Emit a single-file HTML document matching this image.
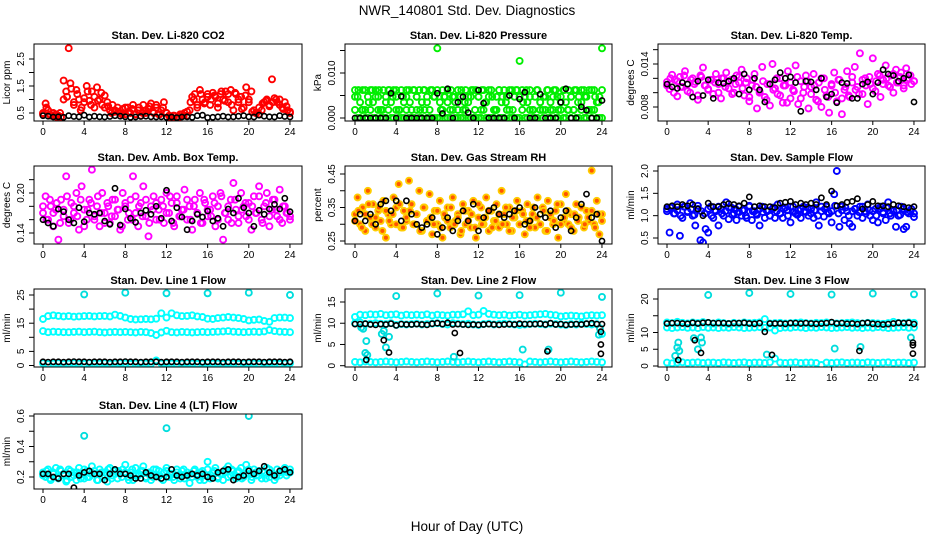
<!DOCTYPE html>
<html><head><meta charset="utf-8">
<style>
html,body{margin:0;padding:0;background:#fff;}
svg{display:block;font-family:"Liberation Sans",Arial,sans-serif;}
</style></head>
<body>
<svg id="chart" width="936" height="540" viewBox="0 0 936 540" xmlns="http://www.w3.org/2000/svg">
<rect width="936" height="540" fill="#fff"/>
<text x="467" y="15" text-anchor="middle" font-size="13.5">NWR_140801  Std. Dev. Diagnostics</text>
<text x="467" y="531" text-anchor="middle" font-size="13.5">Hour of Day (UTC)</text>
</svg>
<script>
// ---------- data ----------
const xTicks = [0,4,8,12,16,20,24];
const titles = ["Stan. Dev. Li-820 CO2","Stan. Dev. Li-820 Pressure","Stan. Dev. Li-820 Temp.","Stan. Dev. Amb. Box Temp.","Stan. Dev. Gas Stream RH","Stan. Dev. Sample Flow","Stan. Dev. Line 1 Flow","Stan. Dev. Line 2 Flow","Stan. Dev. Line 3 Flow","Stan. Dev. Line 4 (LT) Flow"];
const yTitles = ["Licor ppm","kPa","degrees C","degrees C","percent","ml/min","ml/min","ml/min","ml/min","ml/min"];

const co2Color = [0.45,0.85,0.6,0.4,0.5,0.45,0.4,0.35,1.7,1.3,2.9,1.4,0.9,1.35,1.0,0.7,0.9,1.5,0.95,1.3,0.7,1.45,1.0,0.8,1.15,0.9,0.6,0.8,0.55,0.7,0.5,0.65,0.45,0.7,0.5,0.8,0.45,0.6,0.4,0.8,0.5,0.65,0.85,0.5,0.7,0.45,0.6,0.9,0.5,0.4,0.35,0.4,0.3,0.35,0.45,0.5,0.4,0.6,1.1,1.2,0.8,1.35,1.0,0.9,1.2,0.8,1.25,1.1,0.7,1.2,1.0,1.3,0.9,1.35,0.6,1.2,0.9,1.1,0.7,1.45,1.0,1.3,0.6,0.5,0.45,0.6,0.9,1.0,0.8,1.75,1.05,0.9,1.0,0.7,0.9,0.6,0.5];
const co2Color2 = [0.5,0.7,0.45,0.4,0.35,0.5,1.0,1.1,1.6,0.8,1.2,0.6,1.05,1.3,0.8,1.1,0.95,1.25,0.7,0.75,0.5,0.6,0.55,0.45,0.7,0.55,0.65,0.45,0.7,0.5,0.6,0.75,0.55,0.8,0.45,0.7,0.5,0.35,0.4,0.3,0.45,0.4,0.55,0.9,1.0,0.7,1.2,0.85,1.1,1.0,1.15,0.85,1.3,0.95,1.2,0.8,1.25,1.0,0.65,1.15,0.9,0.55,0.5,0.7,0.85,0.95,0.75,0.9,1.0,0.8,0.65,0.75,0.55];
const co2Black = [0.4,0.38,0.35,0.36,0.34,0.4,0.37,0.36,0.42,0.35,0.38,0.36,0.35,0.37,0.4,0.38,0.36,0.34,0.35,0.37,0.38,0.36,0.35,0.36,0.34,0.35,0.33,0.35,0.36,0.34,0.4,0.42,0.33,0.34,0.36,0.38,0.35,0.36,0.38,0.4,0.36,0.35,0.42,0.38,0.36,0.35,0.4,0.37,0.35];

const pressA = [0.0062,0.0047,0.0035,0.0062,0.0018,0.0047,0.0062,0.0035,0.0062,0.0047,0.0018,0.0062,0.0047,0.0062,0.0035,0.0062,0.0047,0.0018,0.0062,0.0035,0.0047,0.0062,0.0018,0.0062,0.0047,0.0062,0.0035,0.0062,0.0047,0.0018,0.0062,0.0047,0.0155,0.0035,0.0062,0.0047,0.0062,0.0018,0.0047,0.0035,0.0062,0.0047,0.0018,0.0062,0.0035,0.0047,0.0062,0.0062,0.0047,0.0018,0.0062,0.0035,0.0047,0.0062,0.0018,0.0047,0.0062,0.0035,0.0062,0.0047,0.0018,0.0062,0.0047,0.0062,0.0127,0.0062,0.0047,0.0035,0.0062,0.0018,0.0047,0.0062,0.0035,0.0018,0.0047,0.0062,0.0035,0.0047,0.0062,0.0018,0.0047,0.0062,0.0035,0.0062,0.0047,0.0018,0.0062,0.0047,0.0035,0.0062,0.0047,0.0062,0.0018,0.0062,0.0035,0.0047,0.0155];
const pressB = [0.0018,0,0,0.0018,0,0,0.0018,0,0,0.0018,0,0,0,0.0018,0,0,0.0018,0,0,0,0.0018,0,0,0,0.0018,0,0,0.0018,0,0,0,0,0,0,0.0018,0,0,0,0.0018,0,0,0,0,0.0018,0,0,0,0,0,0,0.0018,0,0,0,0,0.0018,0,0,0,0.0018,0,0,0,0,0,0.0018,0,0,0.0018,0,0,0,0.0018,0,0.0018,0,0,0.0018,0,0,0.0018,0,0,0.0018,0,0.0018,0,0,0.0018,0,0,0.0018,0,0.0018,0,0,0];
const pressC = [0.0047,0.0062,0.0018,0.0062,0.0035,0.0062,0.0047,0.0062,0.0018,0.0035,0.0062,0.0047,0.0062,0.0018,0.0047,0.0062,0.0035,0.0062,0.0047,0.0018,0.0062,0.0035,0.0062,0.0047,0.0062,0.0018,0.0047,0.0035,0.0062,0.0047,0.0018,0.0062,0.0035,0.0047,0.0062,0.0018,0.0047,0.0062,0.0035,0.0062,0.0047,0.0018,0.0062,0.0047,0.0035,0.0062,0.0018,0.0062,0.0047,0.0035,0.0062,0.0047,0.0018,0.0062,0.0035,0.0047,0.0062,0.0018,0.0062,0.0047,0.0035,0.0062,0.0018,0.0047,0.0062,0.0035,0.0062,0.0047,0.0018,0.0062,0.0047,0.0035,0.0062];
const pressBlack = [0,0,0,0,0,0,0,0.0055,0,0.0048,0,0,0,0,0,0,0.0055,0.001,0.0065,0,0.0035,0.0047,0.0012,0,0.0062,0.0033,0,0,0,0,0.005,0,0.0042,0.0057,0,0,0.0053,0,0,0,0.0035,0.0065,0,0,0.0025,0.0017,0,0,0.0039];

const tempColor = [0.0115,0.0105,0.0125,0.0118,0.0095,0.0122,0.0108,0.0130,0.0112,0.0100,0.0120,0.0115,0.0090,0.0124,0.0135,0.0110,0.0105,0.0118,0.0098,0.0126,0.0112,0.0092,0.0120,0.0128,0.0106,0.0118,0.0100,0.0124,0.0114,0.0132,0.0096,0.0120,0.0088,0.0110,0.0126,0.0078,0.0102,0.0136,0.0094,0.0112,0.0082,0.0140,0.0106,0.0098,0.0120,0.0086,0.0110,0.0130,0.0092,0.0104,0.0138,0.0084,0.0116,0.0100,0.0124,0.0078,0.0108,0.0126,0.0090,0.0114,0.0080,0.0120,0.0096,0.0072,0.0110,0.0128,0.0088,0.0118,0.0070,0.0104,0.0130,0.0094,0.0122,0.0136,0.0108,0.0155,0.0098,0.0120,0.0084,0.0112,0.0148,0.0102,0.0126,0.0094,0.0118,0.0138,0.0110,0.0124,0.0100,0.0132,0.0114,0.0128,0.0106,0.0134,0.0120,0.0112,0.0116];
const tempColor2 = [0.0110,0.0120,0.0100,0.0116,0.0108,0.0124,0.0102,0.0118,0.0112,0.0096,0.0122,0.0110,0.0104,0.0118,0.0114,0.0100,0.0120,0.0108,0.0116,0.0098,0.0112,0.0122,0.0106,0.0114,0.0094,0.0118,0.0108,0.0100,0.0116,0.0090,0.0112,0.0104,0.0120,0.0096,0.0110,0.0086,0.0114,0.0102,0.0122,0.0092,0.0108,0.0116,0.0098,0.0110,0.0088,0.0120,0.0104,0.0094,0.0112,0.0100,0.0118,0.0092,0.0108,0.0096,0.0114,0.0104,0.0098,0.0118,0.0110,0.0122,0.0106,0.0116,0.0124,0.0112,0.0120,0.0108,0.0126,0.0114,0.0122,0.0110,0.0118,0.0124,0.0116];
const tempBlack = [0.0112,0.0108,0.0106,0.0114,0.0112,0.0094,0.0116,0.0096,0.0118,0.0092,0.0114,0.0113,0.0116,0.0120,0.0098,0.0126,0.0104,0.0120,0.0104,0.0087,0.0112,0.0118,0.0128,0.0120,0.0122,0.0114,0.0074,0.0116,0.0115,0.0104,0.0120,0.0094,0.0098,0.0086,0.0114,0.0113,0.0092,0.0092,0.0112,0.0115,0.0098,0.0114,0.0132,0.0126,0.0124,0.0116,0.0120,0.0125,0.0087];

const boxColor = [0.17,0.195,0.16,0.18,0.15,0.175,0.13,0.19,0.165,0.225,0.155,0.185,0.17,0.2,0.145,0.21,0.175,0.16,0.19,0.235,0.165,0.18,0.15,0.2,0.17,0.185,0.155,0.19,0.165,0.175,0.145,0.2,0.18,0.16,0.19,0.225,0.17,0.15,0.185,0.21,0.165,0.135,0.18,0.195,0.16,0.175,0.19,0.155,0.2,0.17,0.185,0.15,0.195,0.165,0.175,0.205,0.16,0.18,0.145,0.19,0.17,0.2,0.155,0.185,0.165,0.175,0.195,0.15,0.18,0.2,0.13,0.17,0.16,0.19,0.215,0.175,0.155,0.2,0.18,0.165,0.185,0.145,0.195,0.17,0.21,0.16,0.18,0.2,0.15,0.175,0.19,0.165,0.205,0.155,0.18,0.17,0.16];
const boxColor2 = [0.18,0.16,0.19,0.17,0.185,0.155,0.175,0.195,0.16,0.18,0.165,0.19,0.15,0.175,0.185,0.16,0.195,0.17,0.155,0.18,0.165,0.19,0.175,0.15,0.185,0.17,0.16,0.195,0.18,0.165,0.19,0.155,0.175,0.185,0.16,0.18,0.17,0.195,0.155,0.185,0.165,0.175,0.19,0.16,0.18,0.17,0.155,0.19,0.175,0.165,0.185,0.16,0.195,0.17,0.18,0.155,0.19,0.165,0.175,0.185,0.16,0.18,0.17,0.195,0.155,0.185,0.165,0.19,0.175,0.16,0.18,0.17,0.165];
const boxBlack = [0.16,0.155,0.15,0.176,0.172,0.16,0.155,0.178,0.157,0.17,0.168,0.17,0.158,0.153,0.207,0.152,0.176,0.162,0.156,0.17,0.174,0.168,0.18,0.162,0.204,0.158,0.178,0.164,0.145,0.158,0.168,0.164,0.173,0.158,0.162,0.15,0.176,0.17,0.192,0.178,0.17,0.15,0.174,0.168,0.176,0.183,0.176,0.192,0.172];

const rhColor = [0.33,0.38,0.3,0.35,0.28,0.4,0.32,0.36,0.29,0.34,0.31,0.37,0.26,0.33,0.3,0.38,0.35,0.42,0.29,0.34,0.31,0.43,0.36,0.3,0.33,0.4,0.28,0.35,0.31,0.39,0.27,0.34,0.3,0.37,0.26,0.32,0.35,0.29,0.38,0.31,0.33,0.27,0.36,0.3,0.34,0.29,0.37,0.26,0.32,0.35,0.3,0.38,0.28,0.34,0.31,0.36,0.29,0.4,0.33,0.3,0.35,0.28,0.32,0.37,0.3,0.34,0.27,0.36,0.31,0.33,0.29,0.38,0.3,0.35,0.28,0.37,0.32,0.3,0.34,0.26,0.36,0.31,0.39,0.3,0.33,0.28,0.36,0.32,0.35,0.29,0.34,0.31,0.46,0.3,0.37,0.27,0.33];
const rhColor2 = [0.31,0.34,0.29,0.33,0.36,0.3,0.32,0.35,0.28,0.34,0.31,0.33,0.3,0.36,0.29,0.32,0.34,0.3,0.33,0.28,0.35,0.31,0.32,0.3,0.34,0.29,0.33,0.31,0.35,0.3,0.32,0.28,0.34,0.31,0.33,0.29,0.36,0.3,0.32,0.34,0.29,0.31,0.33,0.3,0.35,0.28,0.32,0.34,0.3,0.33,0.31,0.29,0.35,0.32,0.3,0.34,0.28,0.33,0.31,0.36,0.3,0.32,0.34,0.29,0.33,0.31,0.35,0.3,0.32,0.34,0.29,0.33,0.31];
const rhBlack = [0.31,0.33,0.31,0.33,0.3,0.36,0.37,0.34,0.37,0.31,0.37,0.33,0.3,0.29,0.3,0.32,0.27,0.29,0.32,0.28,0.31,0.34,0.31,0.36,0.28,0.32,0.34,0.35,0.33,0.32,0.33,0.34,0.35,0.3,0.31,0.35,0.33,0.32,0.34,0.29,0.32,0.34,0.28,0.32,0.36,0.39,0.32,0.33,0.25];

const flowColor = [1.15,0.62,1.2,1.05,1.25,0.55,0.95,1.2,1.1,1.28,1.0,0.78,1.15,0.45,0.4,0.7,0.62,1.2,0.95,1.1,0.78,1.15,1.0,1.3,0.92,1.18,1.05,0.9,1.2,1.0,1.12,0.95,1.22,0.9,1.1,1.02,0.78,1.2,0.95,1.1,1.0,1.15,0.95,1.25,1.05,0.95,1.18,1.0,0.85,1.2,1.05,1.12,0.95,1.2,1.08,1.0,1.15,0.95,1.3,0.78,1.1,0.98,1.2,1.05,0.85,1.48,2.0,0.75,1.2,0.9,1.1,0.82,0.75,1.15,1.0,1.2,0.95,1.1,1.25,1.0,0.9,1.15,0.85,1.2,1.05,0.9,1.3,1.0,1.1,0.75,1.0,1.2,0.7,0.75,1.05,1.15,0.97];
const flowColor2 = [1.1,1.18,1.05,1.12,1.0,1.2,1.08,1.15,1.02,1.22,1.1,1.05,1.15,1.0,1.12,1.2,1.05,1.1,1.18,1.02,1.15,1.08,1.12,1.0,1.2,1.1,1.05,1.15,1.08,1.12,1.0,1.18,1.1,1.05,1.15,1.12,1.2,1.08,1.02,1.15,1.1,1.18,1.05,1.12,1.0,1.2,1.15,1.08,1.1,1.22,1.05,1.12,1.18,1.0,1.1,1.15,1.08,1.2,1.05,1.12,1.1,1.0,1.15,1.08,1.18,1.05,1.1,1.12,1.02,1.15,1.08,1.1,1.05];
const flowBlack = [1.2,1.22,1.2,1.25,1.22,1.25,1.15,1.0,1.28,1.2,1.2,1.25,1.27,1.25,1.22,1.28,1.42,1.2,1.22,1.2,1.2,1.18,1.28,1.3,1.32,1.25,1.28,1.25,1.28,1.25,1.4,1.25,1.55,1.22,1.25,1.3,1.32,1.38,1.15,1.25,1.32,1.22,1.22,1.2,1.25,1.22,1.2,1.18,1.2];

const l1High = [16.5,17.5,17.8,17.6,17.4,17.5,17.3,17.4,17.5,17.6,17.4,17.5,17.6,17.4,18.0,17.6,17.0,16.5,16.3,16.4,16.5,16.4,16.6,18.5,17.0,18.5,17.8,17.5,17.6,17.8,17.4,17.2,16.6,16.5,16.8,17.0,17.2,17.0,16.8,16.5,16.0,16.2,16.3,15.8,15.5,16.8,17.0,17.0,16.8];
const l1Mid = [12.2,11.8,12.0,11.9,11.8,11.8,11.9,12.0,11.8,11.9,12.0,11.8,11.7,11.8,11.9,11.8,11.9,11.8,11.7,11.9,11.8,11.5,10.8,11.7,12.3,11.8,11.7,11.9,11.8,11.7,11.8,11.9,11.8,11.9,12.0,12.1,12.2,12.0,11.9,11.8,11.9,12.0,11.9,12.1,12.6,12.2,12.0,11.9,11.8];
const l1Low = [0.8,0.5,0.7,0.8,0.6,0.7,0.8,0.7,0.6,0.8,0.7,0.7,0.8,0.6,0.7,0.8,0.7,0.6,0.7,0.8,0.7,0.6,1.8,0.7,0.8,0.7,0.6,0.7,0.8,0.7,0.6,0.7,0.8,0.7,0.7,0.6,0.8,0.7,0.6,0.7,0.8,0.7,0.6,0.7,0.8,0.7,0.6,0.7,0.8];
const l1OutHours = [4,8,12,16,20,24];
const l1OutValues = [25.2,25.8,25.6,25.6,25.8,25.0];
const l1Black = [1.3,1.2,1.3,1.3,1.2,1.3,1.4,1.3,1.3,1.2,1.3,1.3,1.3,1.2,1.3,1.3,1.4,1.3,1.3,1.2,1.3,1.3,1.3,1.2,1.3,1.3,1.3,1.2,1.3,1.3,1.3,1.2,1.3,1.3,1.3,1.2,1.3,1.3,1.3,1.2,1.3,1.3,1.3,1.2,1.3,1.3,1.3,1.2,1.3];

const l2High = [11.5,12.0,11.9,12.1,12.0,12.2,11.9,12.0,12.1,11.8,12.0,11.9,12.0,11.9,12.1,11.8,12.0,11.9,11.8,12.0,12.0,12.1,12.8,11.9,12.0,12.9,12.2,12.0,11.9,12.0,11.8,11.9,12.0,11.8,11.9,12.0,12.1,12.2,12.0,11.9,11.6,11.7,11.8,11.7,11.6,11.8,11.9,11.8,11.9];
const l2Mid = [10.0,10.2,9.8,9.9,10.0,9.9,9.8,10.0,9.6,9.8,9.7,9.8,9.9,9.7,9.8,9.9,10.0,9.8,9.7,10.0,9.9,9.8,9.9,9.7,9.6,9.8,9.9,9.7,9.8,9.9,9.8,9.7,9.6,9.7,9.8,9.9,9.8,9.7,9.9,9.8,9.7,9.6,9.8,9.7,9.9,9.8,9.7,9.8,7.5];
const l2Low = [0.9,0.8,1.0,0.9,0.8,0.9,1.0,0.9,0.8,0.9,1.0,0.9,0.8,0.9,1.0,0.9,0.8,0.9,1.0,0.9,0.8,0.9,1.0,0.9,0.8,0.9,1.0,0.9,0.8,0.9,1.0,0.9,0.8,0.3,1.0,0.9,0.8,0.9,1.0,0.9,0.8,0.9,1.0,0.9,0.8,0.9,1.0,0.9,0.8];
const l2OutHours = [0.6,0.8,1.0,1.1,1.2,2.6,2.8,3.0,3.3,4,8,12,16,16.3,18.8,20,9.6,23.7,23.8,24];
const l2OutValues = [9.0,8.7,3.0,5.8,2.5,7.5,8.2,4.3,6.8,16.4,17.0,16.5,16.6,3.8,3.8,17.2,2.1,7.3,8.8,16.2];
const l2Black = [9.8,9.8,9.9,9.7,9.6,9.8,9.7,9.9,9.5,9.8,9.7,9.7,9.8,9.7,9.6,9.9,10.0,9.8,10.1,9.7,9.8,9.7,9.6,9.7,9.6,9.7,9.8,9.7,9.6,9.7,9.8,9.7,9.9,9.8,9.8,9.8,9.9,9.7,10.0,9.7,9.8,9.6,9.7,9.8,9.7,9.9,10.0,9.8,9.8];
const l2BlackOutHours = [1.1,2.8,3.3,9.7,10.2,18.7,23.9,23.9,23.9];
const l2BlackOutValues = [1.4,6.0,3.1,7.7,3.0,3.4,8.0,5.0,2.8];

const l3High = [13.0,12.8,13.2,12.9,12.7,13.0,12.8,13.1,12.9,12.7,13.0,12.8,12.6,12.9,12.7,13.0,12.8,12.9,13.0,14.0,12.7,12.8,12.9,12.7,12.8,12.9,13.0,12.8,12.7,12.9,12.8,13.0,12.9,12.7,12.8,12.9,13.0,12.8,12.7,12.9,12.8,12.7,12.6,12.8,13.2,12.9,12.8,13.0,12.9];
const l3Band = [11.5,11.3,11.5,11.6,11.4,11.5,11.3,11.6,11.4,11.5,11.3,11.5,11.4,11.6,11.5,11.3,11.4,11.5,11.6,11.4,11.5,10.6,11.3,11.5,11.4,11.6,11.5,11.3,11.5,11.4,11.6,11.5,11.3,11.4,11.5,11.6,11.4,11.5,11.3,11.5,11.4,11.6,11.5,11.3,11.4,11.5,11.6,11.4,11.5];
const l3Low = [1.0,0.8,1.0,1.1,0.9,1.0,1.1,0.9,1.0,1.0,0.9,1.1,1.0,0.9,1.0,1.1,0.9,1.0,1.0,0.9,1.1,2.2,1.0,0.9,1.0,1.1,0.9,1.0,1.0,0.9,0.3,1.0,0.9,1.0,1.1,0.9,1.0,1.0,0.9,1.1,1.0,0.9,1.0,1.1,0.9,1.0,1.0,0.9,1.0];
const l3OutHours = [0.8,1.0,1.1,1.2,2.6,3.0,3.3,3.4,4,8,9.7,12,16,16.3,18.8,20,23.7,24];
const l3OutValues = [3.0,5.5,7.0,4.5,8.3,5.0,8.5,7.0,21.2,21.8,3.4,21.5,21.3,5.2,5.7,21.6,8.5,21.4];
const l3Black = [12.7,12.8,12.8,12.7,12.6,12.9,12.7,12.9,13.0,12.8,12.8,12.8,12.7,12.8,12.8,12.9,12.7,12.6,12.8,10.2,12.7,12.7,12.7,12.6,12.8,12.8,12.7,12.8,12.7,12.6,12.7,12.8,13.1,12.7,12.8,12.6,12.7,12.5,12.8,12.9,12.6,12.5,12.4,12.5,12.7,12.9,12.8,12.9,12.5];
const l3BlackOutHours = [1.1,2.7,3.3,10.2,18.7,23.9,23.9,23.9];
const l3BlackOutValues = [1.8,7.7,3.9,3.3,4.5,6.2,7.0,3.7];

const l4Color = [0.23,0.2,0.25,0.18,0.22,0.26,0.19,0.24,0.21,0.17,0.25,0.2,0.23,0.18,0.26,0.22,0.19,0.24,0.2,0.27,0.22,0.18,0.25,0.2,0.23,0.17,0.26,0.21,0.24,0.19,0.22,0.25,0.28,0.2,0.23,0.18,0.26,0.21,0.24,0.27,0.2,0.22,0.18,0.25,0.21,0.24,0.19,0.23,0.26,0.2,0.22,0.18,0.25,0.21,0.24,0.19,0.23,0.16,0.2,0.25,0.22,0.18,0.24,0.21,0.3,0.19,0.23,0.26,0.2,0.22,0.18,0.25,0.27,0.21,0.24,0.19,0.23,0.26,0.2,0.28,0.22,0.18,0.25,0.21,0.24,0.19,0.23,0.26,0.2,0.22,0.18,0.25,0.21,0.24,0.26,0.23,0.25];
const l4Color2 = [0.21,0.24,0.19,0.23,0.2,0.25,0.22,0.18,0.24,0.21,0.23,0.19,0.25,0.2,0.22,0.24,0.18,0.23,0.21,0.25,0.19,0.22,0.24,0.2,0.23,0.18,0.25,0.21,0.22,0.24,0.19,0.23,0.2,0.25,0.21,0.18,0.24,0.22,0.2,0.23,0.19,0.25,0.21,0.22,0.24,0.2,0.23,0.18,0.25,0.21,0.24,0.19,0.22,0.23,0.2,0.25,0.21,0.24,0.19,0.22,0.25,0.2,0.23,0.21,0.24,0.19,0.25,0.22,0.2,0.23,0.24,0.21,0.23];
const l4OutHours = [4,12,20];
const l4OutValues = [0.47,0.52,0.6];
const l4Black = [0.22,0.22,0.2,0.19,0.22,0.22,0.13,0.21,0.23,0.24,0.22,0.22,0.18,0.22,0.25,0.22,0.22,0.21,0.19,0.19,0.23,0.21,0.2,0.19,0.2,0.25,0.21,0.2,0.21,0.22,0.21,0.22,0.2,0.19,0.23,0.24,0.25,0.18,0.2,0.21,0.24,0.22,0.24,0.27,0.23,0.21,0.24,0.25,0.23];

// ---------- layout ----------
const NS = "http://www.w3.org/2000/svg";
const svg = document.getElementById("chart");
const colBox = [[34,302],[345,612],[658,925]];
const colZero = [43,355,667];
const pxPerHour = 10.29;
const rowBox = [[44,121],[166,244],[289,367],[414,489]];

function el(tag, attrs, parent){
  const e = document.createElementNS(NS, tag);
  for (const k in attrs) e.setAttribute(k, attrs[k]);
  (parent||svg).appendChild(e);
  return e;
}
function hoursOf(arr){ return arr.map((_, i) => i * 24 / (arr.length - 1)); }

const panels = [
 {col:0,row:0,cal:[0.5,113,2.5,59],ticks:[0.5,1.0,1.5,2.0,2.5],labels:["0.5","","1.5","","2.5"],
  series:[{v:co2Color,c:"#ff0000"},{v:co2Color2,c:"#ff0000"},{v:co2Black,c:"#000"}]},
 {col:1,row:0,cal:[0,118,0.010,73],ticks:[0,0.005,0.010,0.015],labels:["0.000","","0.010",""],
  series:[{v:pressA,c:"#00ee00"},{v:pressC,c:"#00ee00"},{v:pressB,c:"#00ee00"},{v:pressBlack,c:"#000"}]},
 {col:2,row:0,cal:[0.008,107,0.014,64],ticks:[0.008,0.010,0.012,0.014,0.016],labels:["0.008","","","0.014",""],
  series:[{v:tempColor,c:"#ff00ff"},{v:tempColor2,c:"#ff00ff"},{v:tempBlack,c:"#000"}]},
 {col:0,row:1,cal:[0.14,233,0.20,193],ticks:[0.14,0.16,0.18,0.20,0.22],labels:["0.14","","","0.20",""],
  series:[{v:boxColor,c:"#ff00ff"},{v:boxColor2,c:"#ff00ff"},{v:boxBlack,c:"#000"}]},
 {col:1,row:1,cal:[0.25,241,0.45,174],ticks:[0.25,0.30,0.35,0.40,0.45],labels:["0.25","","0.35","","0.45"],
  series:[{v:rhColor,c:"#ffcc00",f:"#ff5500"},{v:rhColor2,c:"#ffcc00",f:"#ff5500"},{v:rhBlack,c:"#000"}]},
 {col:2,row:1,cal:[0.5,238,2.0,171],ticks:[0.5,1.0,1.5,2.0],labels:["0.5","1.0","1.5","2.0"],
  series:[{v:flowColor,c:"#0000ff"},{v:flowColor2,c:"#0000ff"},{v:flowBlack,c:"#000"}]},
 {col:0,row:2,cal:[0,365.5,25,295],ticks:[0,5,10,15,20,25],labels:["0","5","","15","","25"],
  series:[{v:l1High,c:"#00ffff"},{v:l1Mid,c:"#00ffff"},{v:l1Low,c:"#00ffff"},{v:l1OutValues,h:l1OutHours,c:"#00dddd"},{v:l1Black,c:"#000"}]},
 {col:1,row:2,cal:[0,365.7,15,302],ticks:[0,5,10,15],labels:["0","5","10","15"],
  series:[{v:l2High,c:"#00ffff"},{v:l2Mid,c:"#00ffff"},{v:l2Low,c:"#00ffff"},{v:l2OutValues,h:l2OutHours,c:"#00dddd"},{v:l2Black,c:"#000"},{v:l2BlackOutValues,h:l2BlackOutHours,c:"#000"}]},
 {col:2,row:2,cal:[0,366,20,299],ticks:[0,5,10,15,20],labels:["0","5","10","","20"],
  series:[{v:l3High,c:"#00ffff"},{v:l3Band,c:"#00ffff"},{v:l3Low,c:"#00ffff"},{v:l3OutValues,h:l3OutHours,c:"#00dddd"},{v:l3Black,c:"#000"},{v:l3BlackOutValues,h:l3BlackOutHours,c:"#000"}]},
 {col:0,row:3,cal:[0.2,477,0.6,416],ticks:[0.2,0.3,0.4,0.5,0.6],labels:["0.2","","0.4","","0.6"],
  series:[{v:l4Color,c:"#00ffff"},{v:l4Color2,c:"#00ffff"},{v:l4OutValues,h:l4OutHours,c:"#00dddd"},{v:l4Black,c:"#000"}]}
];

panels.forEach((p, pi) => {
  const [bx0, bx1] = colBox[p.col];
  const [by0, by1] = rowBox[p.row];
  const xS = h => colZero[p.col] + h * pxPerHour;
  const [v0, p0, v1, p1] = p.cal;
  const yS = v => p0 + (v - v0) * (p1 - p0) / (v1 - v0);
  const g = el("g", {});
  
  
  const cp = el("clipPath", {id: "clip" + pi}, g);
  el("rect", {x: bx0, y: by0, width: bx1 - bx0, height: by1 - by0}, cp);
  const t = el("text", {x: (bx0 + bx1) / 2, y: by0 - 5, "text-anchor": "middle", "font-size": "11", "font-weight": "bold"}, g);
  t.textContent = titles[pi];
  
  
  const pts = el("g", {"clip-path": "url(#clip" + pi + ")"}, g);
  
  
  p.series.forEach(s => {
    const hrs = s.h || hoursOf(s.v);
    const black = s.c === "#000";
    s.v.forEach((v, i) => {
      const c = el("circle", {cx: xS(hrs[i]).toFixed(1), cy: yS(v).toFixed(1), r: black ? 2.6 : 3, fill: s.f || "none", stroke: s.c, "stroke-width": black ? 1.6 : 1.9}, pts);
      
      
    });
  });
  const box = el("rect", {x: bx0, y: by0, width: bx1 - bx0, height: by1 - by0, fill: "none", stroke: "#000", "stroke-width": 1}, g);
  
  
  xTicks.forEach(h => {
    const x = xS(h);
    el("line", {x1: x, y1: by1, x2: x, y2: by1 + 4, stroke: "#000"}, g);
    const tl = el("text", {x: x, y: by1 + 14, "text-anchor": "middle", "font-size": "10"}, g);
    tl.textContent = String(h);
    
    
  });
  p.ticks.forEach((v, i) => {
    const y = yS(v);
    if (y < by0 - 1 || y > by1 + 1) return;
    el("line", {x1: bx0 - 5, y1: y, x2: bx0, y2: y, stroke: "#000"}, g);
    if (p.labels[i]) {
      const lx = bx0 - 10;
      const yl = el("text", {x: lx, y: y, "text-anchor": "middle", "font-size": "10", transform: "rotate(-90 " + lx + " " + y + ")"}, g);
      yl.textContent = p.labels[i];
      
      
    }
  });
  const yx = bx0 - 24, yy = (by0 + by1) / 2;
  const yt = el("text", {x: yx, y: yy, "text-anchor": "middle", "font-size": "10", transform: "rotate(-90 " + yx + " " + yy + ")"}, g);
  yt.textContent = yTitles[pi];
  
  
});
</script>
</body></html>
